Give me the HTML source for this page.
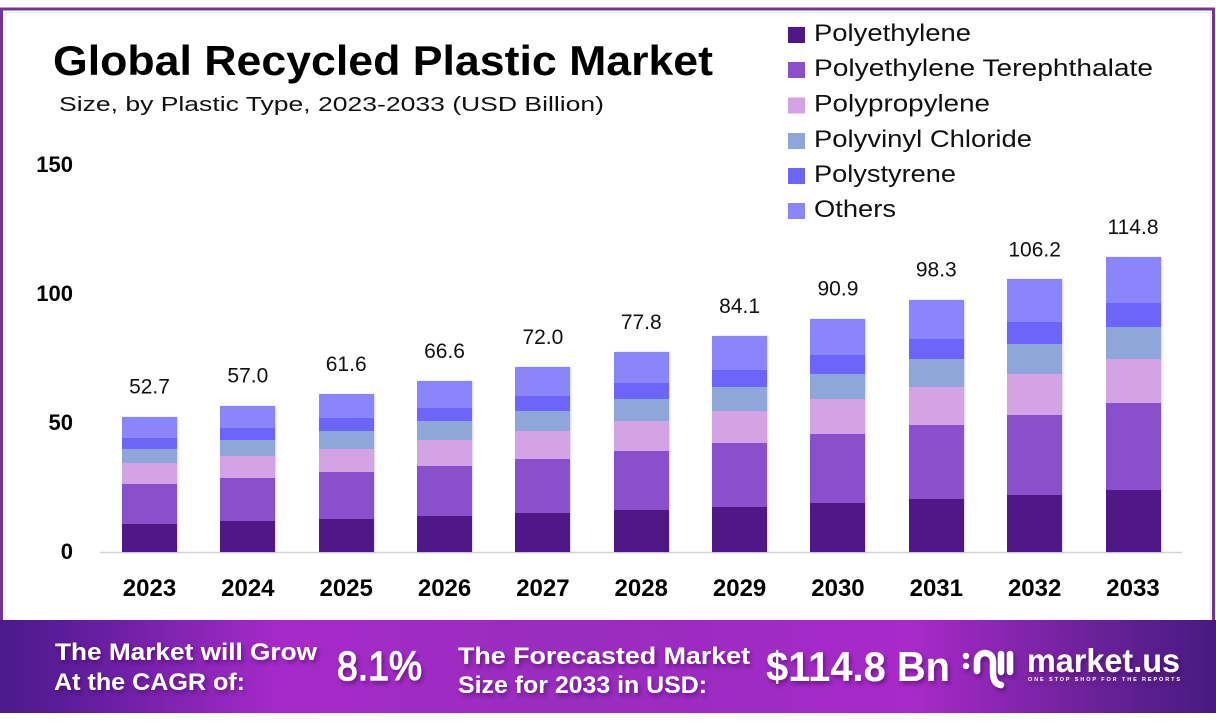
<!DOCTYPE html>
<html><head><meta charset="utf-8">
<style>
html,body{margin:0;padding:0;background:#fff;}
#wrap{position:relative;width:1216px;height:722px;overflow:hidden;background:#fff;font-family:"Liberation Sans",sans-serif;}
svg{position:absolute;left:0;top:0;}
.bar{position:absolute;width:55px;display:flex;flex-direction:column;box-shadow:1px 0 2px rgba(0,0,0,0.18);}
.bar div{width:100%;}
.o{height:15.6%;background:#8b85fb;}
.s{height:8%;background:#6d64fa;}
.v{height:11%;background:#8ea6d9;}
.p{height:15%;background:#d3a3e6;}
.t{height:29.5%;background:#8a4fcb;}
.e{height:20.9%;background:#4f1788;}
</style></head>
<body><div id="wrap">
<svg width="1216" height="722" viewBox="0 0 1216 722">
  <defs>
    <linearGradient id="bg" x1="0" y1="0" x2="1" y2="0">
      <stop offset="0" stop-color="#4a1a8b"/>
      <stop offset="0.05" stop-color="#5a1c98"/>
      <stop offset="0.23" stop-color="#a62ac9"/>
      <stop offset="0.45" stop-color="#9a2cbf"/>
      <stop offset="0.58" stop-color="#9d2bc3"/>
      <stop offset="0.75" stop-color="#a82ac9"/>
      <stop offset="0.9" stop-color="#6a2199"/>
      <stop offset="1" stop-color="#471a80"/>
    </linearGradient>
    <filter id="sh" x="-10%" y="-30%" width="120%" height="160%">
      <feDropShadow dx="2" dy="3" stdDeviation="2" flood-color="#2a0640" flood-opacity="0.45"/>
    </filter>
  </defs>
  <!-- frame -->
  <rect x="1.5" y="9" width="1212" height="640" fill="none" stroke="#7434a0" stroke-width="3"/>
  <rect x="5" y="12.5" width="1205" height="610" fill="none" stroke="#ececec" stroke-width="1"/>

  <!-- title -->
  <text x="53" y="75" font-size="42" font-weight="bold" fill="#000" textLength="660" lengthAdjust="spacingAndGlyphs">Global Recycled Plastic Market</text>
  <text x="59" y="111" font-size="20" fill="#111" textLength="545" lengthAdjust="spacingAndGlyphs">Size, by Plastic Type, 2023-2033 (USD Billion)</text>

  <!-- legend -->
  <g font-size="24" fill="#111">
    <rect x="788" y="27" width="17" height="16" fill="#4f1788"/>
    <text x="814" y="41" textLength="157" lengthAdjust="spacingAndGlyphs">Polyethylene</text>
    <rect x="788" y="62" width="17" height="16" fill="#8a4fcb"/>
    <text x="814" y="76" textLength="339" lengthAdjust="spacingAndGlyphs">Polyethylene Terephthalate</text>
    <rect x="788" y="97.5" width="17" height="16" fill="#d3a3e6"/>
    <text x="814" y="111.5" textLength="176" lengthAdjust="spacingAndGlyphs">Polypropylene</text>
    <rect x="788" y="133" width="17" height="16" fill="#8ea6d9"/>
    <text x="814" y="147" textLength="218" lengthAdjust="spacingAndGlyphs">Polyvinyl Chloride</text>
    <rect x="788" y="168" width="17" height="16" fill="#6d64fa"/>
    <text x="814" y="182" textLength="142" lengthAdjust="spacingAndGlyphs">Polystyrene</text>
    <rect x="788" y="203" width="17" height="16" fill="#8b85fb"/>
    <text x="814" y="217" textLength="82" lengthAdjust="spacingAndGlyphs">Others</text>
  </g>

  <!-- y axis labels -->
  <g font-size="22" font-weight="bold" fill="#000" text-anchor="end">
    <text x="73" y="172">150</text>
    <text x="73" y="301">100</text>
    <text x="73" y="430">50</text>
    <text x="73" y="559">0</text>
  </g>

  <!-- axis line -->
  <line x1="100" y1="552.5" x2="1182" y2="552.5" stroke="#d4d4d4" stroke-width="1.5"/>

  <!-- year labels -->
  <g font-size="24" font-weight="bold" fill="#000" text-anchor="middle">
    <text x="149.5" y="596">2023</text>
    <text x="247.85" y="596">2024</text>
    <text x="346.2" y="596">2025</text>
    <text x="444.55" y="596">2026</text>
    <text x="542.9" y="596">2027</text>
    <text x="641.25" y="596">2028</text>
    <text x="739.6" y="596">2029</text>
    <text x="837.95" y="596">2030</text>
    <text x="936.3" y="596">2031</text>
    <text x="1034.65" y="596">2032</text>
    <text x="1133" y="596">2033</text>
  </g>

  <!-- value labels -->
  <g font-size="21" fill="#111" text-anchor="middle">
    <text x="149.5" y="393.7">52.7</text>
    <text x="247.85" y="382.6">57.0</text>
    <text x="346.2" y="370.8">61.6</text>
    <text x="444.55" y="358">66.6</text>
    <text x="542.9" y="344.1">72.0</text>
    <text x="641.25" y="329.2">77.8</text>
    <text x="739.6" y="313">84.1</text>
    <text x="837.95" y="295.6">90.9</text>
    <text x="936.3" y="276.6">98.3</text>
    <text x="1034.65" y="256.3">106.2</text>
    <text x="1133" y="234.2">114.8</text>
  </g>

  <!-- banner -->
  <rect x="0" y="620" width="1216" height="93" fill="url(#bg)"/>
  <g fill="#fff" filter="url(#sh)">
    <text x="55" y="660" font-size="24" font-weight="bold" textLength="262" lengthAdjust="spacingAndGlyphs">The Market will Grow</text>
    <text x="54" y="690" font-size="24" font-weight="bold" textLength="191" lengthAdjust="spacingAndGlyphs">At the CAGR of:</text>
    <text x="337" y="680" font-size="41" stroke="#fff" stroke-width="1.3" textLength="85" lengthAdjust="spacingAndGlyphs">8.1%</text>
    <text x="458" y="664" font-size="24" font-weight="bold" textLength="292" lengthAdjust="spacingAndGlyphs">The Forecasted Market</text>
    <text x="458" y="693" font-size="24" font-weight="bold" textLength="249" lengthAdjust="spacingAndGlyphs">Size for 2033 in USD:</text>
    <text x="766" y="681" font-size="42" font-weight="bold" textLength="184" lengthAdjust="spacingAndGlyphs">$114.8 Bn</text>
    <g stroke="#fff" stroke-width="6.5" stroke-linecap="round" fill="none">
      <path d="M977,671 V661 A8,8 0 0 1 993,661 V672 Q993,684 1001,685"/>
      <line x1="1001" y1="654" x2="1001" y2="672"/>
      <line x1="1010" y1="654" x2="1010" y2="672"/>
    </g>
    <circle cx="966" cy="656" r="3.2"/>
    <circle cx="966" cy="666" r="3.2"/>
    <text x="1027" y="672" font-size="33" font-weight="bold" textLength="153" lengthAdjust="spacingAndGlyphs">market.us</text>
    <text x="1028" y="681" font-size="5.5" font-weight="bold" textLength="152" lengthAdjust="spacing">ONE STOP SHOP FOR THE REPORTS</text>
  </g>
</svg>

<!-- bars -->
<div class="bar" style="left:122px;top:416.7px;height:135.3px"><div class="o"></div><div class="s"></div><div class="v"></div><div class="p"></div><div class="t"></div><div class="e"></div></div>
<div class="bar" style="left:220.35px;top:405.6px;height:146.4px"><div class="o"></div><div class="s"></div><div class="v"></div><div class="p"></div><div class="t"></div><div class="e"></div></div>
<div class="bar" style="left:318.7px;top:393.8px;height:158.2px"><div class="o"></div><div class="s"></div><div class="v"></div><div class="p"></div><div class="t"></div><div class="e"></div></div>
<div class="bar" style="left:417.05px;top:381px;height:171px"><div class="o"></div><div class="s"></div><div class="v"></div><div class="p"></div><div class="t"></div><div class="e"></div></div>
<div class="bar" style="left:515.4px;top:367.1px;height:184.9px"><div class="o"></div><div class="s"></div><div class="v"></div><div class="p"></div><div class="t"></div><div class="e"></div></div>
<div class="bar" style="left:613.75px;top:352.2px;height:199.8px"><div class="o"></div><div class="s"></div><div class="v"></div><div class="p"></div><div class="t"></div><div class="e"></div></div>
<div class="bar" style="left:712.1px;top:336px;height:216px"><div class="o"></div><div class="s"></div><div class="v"></div><div class="p"></div><div class="t"></div><div class="e"></div></div>
<div class="bar" style="left:810.45px;top:318.6px;height:233.4px"><div class="o"></div><div class="s"></div><div class="v"></div><div class="p"></div><div class="t"></div><div class="e"></div></div>
<div class="bar" style="left:908.8px;top:299.6px;height:252.4px"><div class="o"></div><div class="s"></div><div class="v"></div><div class="p"></div><div class="t"></div><div class="e"></div></div>
<div class="bar" style="left:1007.15px;top:279.3px;height:272.7px"><div class="o"></div><div class="s"></div><div class="v"></div><div class="p"></div><div class="t"></div><div class="e"></div></div>
<div class="bar" style="left:1105.5px;top:257.2px;height:294.8px"><div class="o"></div><div class="s"></div><div class="v"></div><div class="p"></div><div class="t"></div><div class="e"></div></div>
</div></body></html>
